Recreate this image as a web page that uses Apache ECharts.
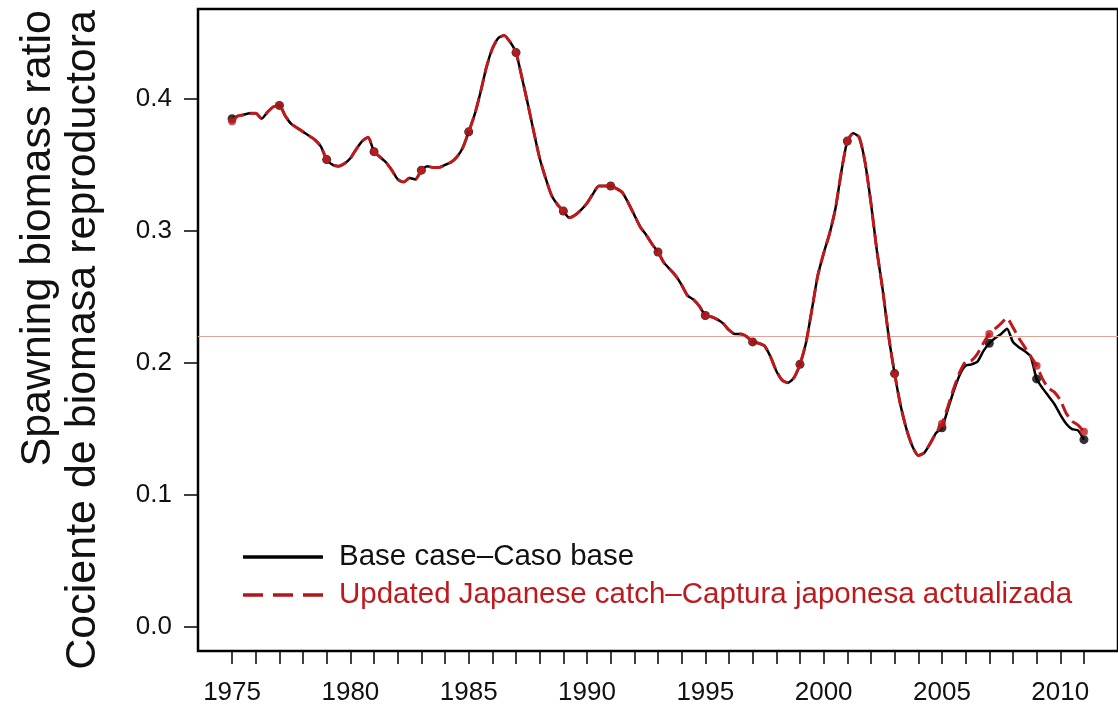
<!DOCTYPE html>
<html>
<head>
<meta charset="utf-8">
<script src="https://cdn.jsdelivr.net/npm/echarts@6/dist/echarts.min.js"></script>
<style>
html,body{margin:0;padding:0;background:#fff;}
#chart{width:1118px;height:708px;}
</style>
</head>
<body>
<div id="chart"></div>
<script>
// ---- data (quarterly, 1975.00 .. 2011.00) ----
const startYear = 1975;
const stepYear = 0.25;
const baseCase = [
  0.385,0.387,0.388,0.389, 0.389,0.385,0.390,0.394, // 1975-1976
  0.395,0.387,0.381,0.378, 0.375,0.372,0.369,0.364, // 1977-1978
  0.354,0.350,0.349,0.351, 0.355,0.362,0.368,0.371, // 1979-1980
  0.360,0.356,0.352,0.346, 0.339,0.337,0.340,0.339, // 1981-1982
  0.346,0.349,0.348,0.348, 0.350,0.352,0.356,0.363, // 1983-1984
  0.375,0.388,0.405,0.424, 0.438,0.446,0.448,0.443, // 1985-1986
  0.435,0.416,0.396,0.375, 0.355,0.340,0.327,0.320, // 1987-1988
  0.315,0.310,0.312,0.316, 0.321,0.328,0.334,0.334, // 1989-1990
  0.334,0.332,0.329,0.321, 0.312,0.303,0.297,0.290, // 1991-1992
  0.284,0.276,0.271,0.266, 0.259,0.251,0.248,0.243, // 1993-1994
  0.236,0.235,0.233,0.230, 0.225,0.222,0.222,0.220, // 1995-1996
  0.216,0.215,0.213,0.205, 0.194,0.187,0.185,0.189, // 1997-1998
  0.199,0.215,0.240,0.266, 0.283,0.298,0.317,0.345, // 1999-2000
  0.368,0.374,0.371,0.352, 0.321,0.285,0.255,0.220, // 2001-2002
  0.192,0.168,0.150,0.137, 0.130,0.132,0.139,0.147, // 2003-2004
  0.151,0.165,0.179,0.191, 0.198,0.199,0.201,0.209, // 2005-2006
  0.215,0.219,0.222,0.226, 0.216,0.212,0.209,0.205, // 2007-2008
  0.188,0.181,0.175,0.169, 0.161,0.154,0.150,0.149, // 2009-2010
  0.142                                              // 2011
];
const updatedJapan = [
  0.383,0.387,0.388,0.389, 0.389,0.385,0.390,0.394, // 1975-1976
  0.395,0.387,0.381,0.378, 0.375,0.372,0.369,0.364, // 1977-1978
  0.354,0.350,0.349,0.351, 0.355,0.362,0.368,0.371, // 1979-1980
  0.360,0.356,0.352,0.346, 0.339,0.337,0.340,0.339, // 1981-1982
  0.346,0.349,0.348,0.348, 0.350,0.352,0.356,0.363, // 1983-1984
  0.375,0.388,0.405,0.424, 0.438,0.446,0.448,0.443, // 1985-1986
  0.435,0.416,0.396,0.375, 0.355,0.340,0.327,0.320, // 1987-1988
  0.315,0.310,0.312,0.316, 0.321,0.328,0.334,0.334, // 1989-1990
  0.334,0.332,0.329,0.321, 0.312,0.303,0.297,0.290, // 1991-1992
  0.284,0.276,0.271,0.266, 0.259,0.251,0.248,0.243, // 1993-1994
  0.236,0.235,0.233,0.230, 0.225,0.222,0.222,0.220, // 1995-1996
  0.216,0.215,0.213,0.205, 0.194,0.187,0.185,0.189, // 1997-1998
  0.199,0.215,0.240,0.266, 0.283,0.298,0.317,0.345, // 1999-2000
  0.368,0.374,0.371,0.352, 0.321,0.285,0.255,0.220, // 2001-2002
  0.192,0.168,0.150,0.137, 0.130,0.132,0.139,0.147, // 2003-2004
  0.154,0.167,0.181,0.193, 0.201,0.202,0.207,0.215, // 2005-2006
  0.222,0.226,0.230,0.234, 0.227,0.219,0.212,0.205, // 2007-2008
  0.198,0.188,0.181,0.178, 0.172,0.162,0.156,0.153, // 2009-2010
  0.148                                              // 2011
];
const referenceLevel = 0.224;
const xTickYears = [1975,1976,1977,1978,1979,1980,1981,1982,1983,1984,1985,1986,1987,1988,1989,1990,1991,1992,1993,1994,1995,1996,1997,1998,1999,2000,2001,2002,2003,2004,2005,2006,2007,2008,2009,2010,2011];
const xLabelYears = [1975,1980,1985,1990,1995,2000,2005,2010];
const yTicks = [0.0,0.1,0.2,0.3,0.4];
const seriesNames = ['Base case\u2013Caso base','Updated Japanese catch\u2013Captura japonesa actualizada'];
const yTitle1 = 'Spawning biomass ratio';
const yTitle2 = 'Cociente de biomasa reproductora';
const markerEvery = 8; // a marker every two years

// ---- build ----
const toPairs = arr => arr.map((v,i)=>[startYear + i*stepYear, v]);
const toMarkers = arr => toPairs(arr).filter((p,i)=> i % markerEvery === 0);
const RED = '#be1a1e';
const FONT = '"Liberation Sans", Arial, sans-serif';

const chart = echarts.init(document.getElementById('chart'), null, {renderer:'canvas'});
chart.setOption({
  animation:false,
  backgroundColor:'#fff',
  grid:{left:198, top:9, width:933, height:642, show:true, borderColor:'#000', borderWidth:2.5, backgroundColor:'transparent', containLabel:false},
  xAxis:{
    type:'value', min:1973.56, max:2012.44,
    splitLine:{show:false}, axisLine:{show:false, onZero:false},
    axisTick:{show:true, customValues:xTickYears, length:13, lineStyle:{color:'#000', width:1.5}},
    axisLabel:{customValues:xLabelYears, fontSize:26, fontFamily:FONT, color:'#111', margin:29, formatter:v=>String(v)}
  },
  yAxis:{
    type:'value', min:-0.018, max:0.468,
    splitLine:{show:false}, axisLine:{show:false, onZero:false},
    axisTick:{show:true, customValues:yTicks, length:14, lineStyle:{color:'#000', width:1.5}},
    axisLabel:{customValues:yTicks, fontSize:26, fontFamily:FONT, color:'#111', margin:26, formatter:v=>v.toFixed(1)}
  },
  legend:{
    orient:'vertical', left:238, top:537, itemWidth:80, itemHeight:3.5, itemGap:8,
    selectedMode:false,
    textStyle:{fontSize:29.5, fontFamily:FONT, padding:[0,0,0,11]},
    data:[
      {name:seriesNames[0], icon:'rect', itemStyle:{color:'#000'}, textStyle:{color:'#111'}},
      {name:seriesNames[1], icon:'path://M0,0h20v3.5h-20z M30,0h20v3.5h-20z M60,0h20v3.5h-20z', itemStyle:{color:'#b0161a'}, textStyle:{color:RED}}
    ]
  },
  graphic:[
    {type:'text', x:17, y:10, rotation:Math.PI/2, silent:true,
     style:{text:yTitle1, font:'43px '+FONT, fill:'#111', textAlign:'right', textVerticalAlign:'top', align:'right', verticalAlign:'top'}},
    {type:'text', x:62, y:10, rotation:Math.PI/2, silent:true,
     style:{text:yTitle2, font:'43px '+FONT, fill:'#111', textAlign:'right', textVerticalAlign:'top', align:'right', verticalAlign:'top'}}
  ],
  series:[
    {name:seriesNames[0], type:'line', data:toPairs(baseCase), symbol:'none', smooth:0.2, z:3,
     lineStyle:{color:'#000', width:2.5}, itemStyle:{color:'#000'},
     markLine:{silent:true, symbol:['none','none'], label:{show:false},
       lineStyle:{color:'#e0a496', width:1.2, type:'solid'}, data:[{yAxis:referenceLevel}]}},
    {name:'baseMarkers', type:'scatter', data:toMarkers(baseCase), symbol:'circle', symbolSize:9, z:4,
     itemStyle:{color:'#000'}},
    {name:seriesNames[1], type:'line', data:toPairs(updatedJapan), symbol:'none', smooth:0.2, z:5,
     lineStyle:{color:RED, width:3, type:[14,6]}, itemStyle:{color:RED}},
    {name:'updatedMarkers', type:'scatter', data:toMarkers(updatedJapan), symbol:'circle', symbolSize:8, z:6,
     itemStyle:{color:RED}}
  ]
});
</script>
</body>
</html>
